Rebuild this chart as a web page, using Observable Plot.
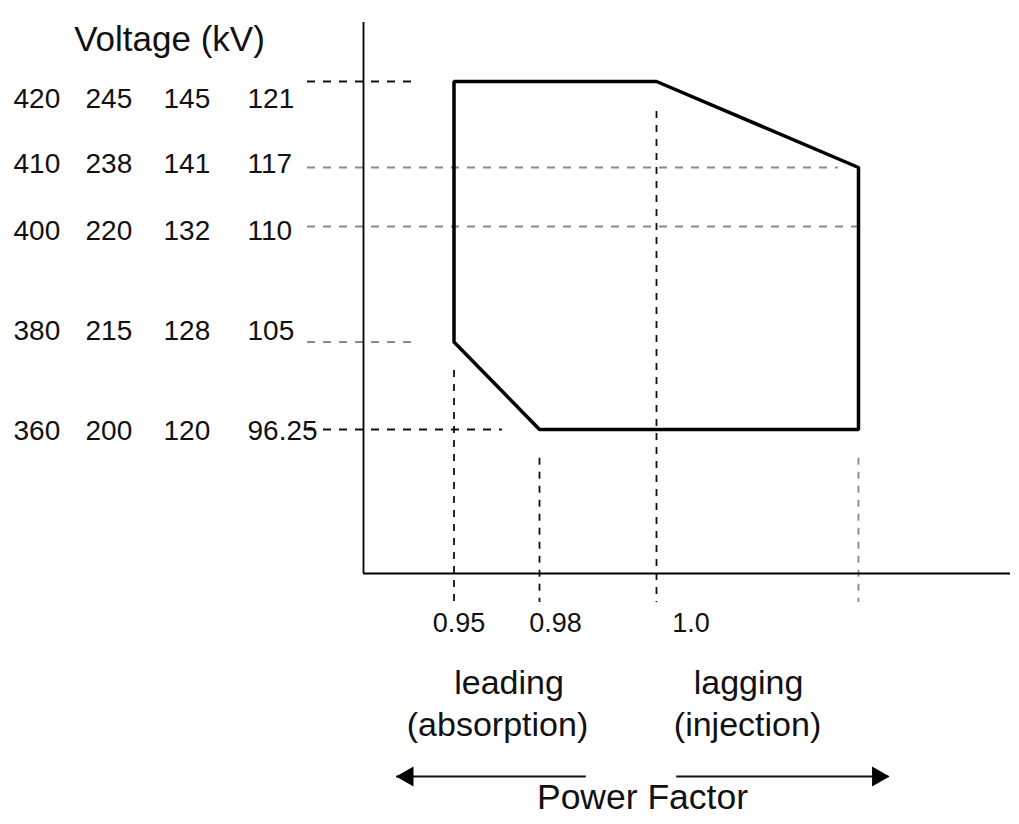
<!DOCTYPE html>
<html><head><meta charset="utf-8">
<script src="https://cdn.jsdelivr.net/npm/d3@7"></script>
<script src="https://cdn.jsdelivr.net/npm/@observablehq/plot@0.6"></script>
<style>body{margin:0;background:#fff;} svg{display:block;}</style>
</head><body><div id="chart"></div>
<script>
// Voltage levels (kV) of the four systems, rows top -> bottom
const kV420 = [420, 410, 400, 380, 360];
const kV245 = ["245", "238", "220", "215", "200"];
const kV145 = ["145", "141", "132", "128", "120"];
const kV121 = ["121", "117", "110", "105", "96.25"];

// Power factor as signed offset from unity (leading < 0, lagging > 0)
const pfTicks = [-0.05, -0.02, 0];
const pfTickLabels = ["0.95", "0.98", "1.0"];

// Operating envelope vertices (pf offset, kV on the 400 kV scale)
const envPf = [-0.05, 0, 0.05, 0.05, -0.02, -0.05];
const envKV = [420, 420, 410, 360, 360, 380];

// Horizontal dashed guides (kV level, where the guide stops)
const hGuideKV = [420, 410, 400, 380, 360];
const hGuideEnd = [-0.062, 0.045, 0.05, -0.062, -0.033];
const hGuideTone = ["dark", "light", "light", "light", "dark"];

// Vertical dashed guides (pf, where the guide starts)
const vGuidePf = [-0.05, -0.02, 0, 0.05];
const vGuideTop = [373.5, 354, 416.5, 354];
const vGuideTone = ["dark", "dark", "dark", "light"];

// Direction arrows (pf offset of tail and tip)
const arrowTail = [-0.012, 0.005];
const arrowTip = [-0.069, 0.056];

// Axis / guide extents
const pfGuideStart = -0.10, pfAxisStart = -0.08;
const kVGuideBase = 324, kVAxisBase = 330, kVAxisTop = 430;

const tone = {dark: "#111", light: "#8a8a8a"};
const FONT = "'Liberation Sans', Arial, sans-serif";

const env = envPf.map((pf, i) => ({pf, kv: envKV[i]}));
const marks = [];

// horizontal guides
hGuideKV.forEach((kv, i) => {
  marks.push(Plot.ruleY([{kv, x1: pfGuideStart, x2: hGuideEnd[i]}], {
    y: "kv", x1: "x1", x2: "x2", stroke: tone[hGuideTone[i]], strokeWidth: 1.8, strokeDasharray: "8,8"
  }));
});
// vertical guides
vGuidePf.forEach((pf, i) => {
  marks.push(Plot.ruleX([{pf, top: vGuideTop[i], base: kVGuideBase}], {
    x: "pf", y1: "top", y2: "base", stroke: tone[vGuideTone[i]], strokeWidth: 1.8, strokeDasharray: "7,7"
  }));
});
// axes
marks.push(Plot.ruleX([{x: pfAxisStart, y1: kVAxisBase, y2: kVAxisTop}], {x: "x", y1: "y1", y2: "y2", stroke: "#000", strokeWidth: 1.8}));
marks.push(Plot.ruleY([{y: kVAxisBase, x1: pfAxisStart, x2: 0.08}], {y: "y", x1: "x1", x2: "x2", stroke: "#000", strokeWidth: 1.8}));
// envelope
marks.push(Plot.line(env, {x: "pf", y: "kv", curve: "linear-closed", stroke: "#000", strokeWidth: 3.5, strokeLinejoin: "miter"}));

// voltage labels: four columns per row
const cols = [kV420.map(String), kV245, kV145, kV121];
const colDx = [-294, -222, -144, -60];
const rowDy = [18, -3, 5, -10.5, 2];
kV420.forEach((kv, r) => {
  cols.forEach((col, c) => {
    marks.push(Plot.text([{kv, t: col[r]}], {
      y: "kv", text: "t", frameAnchor: "left", dx: colDx[c], dy: rowDy[r],
      textAnchor: "start", fontSize: 28, fill: "#111"
    }));
  });
});

// power factor tick labels
const tickDx = [5, 16, 34.5];
pfTicks.forEach((pf, i) => {
  marks.push(Plot.text([{pf, t: pfTickLabels[i]}], {
    x: "pf", text: "t", frameAnchor: "bottom", dy: 29, dx: tickDx[i], fontSize: 27, fill: "#111"
  }));
});

// annotations below the axis (relative to the bottom-left of the frame)
const notes = [
  {t: "leading", dx: 201.5, dy: 91, s: 34},
  {t: "(absorption)", dx: 190, dy: 133, s: 34},
  {t: "lagging", dx: 441, dy: 91, s: 34},
  {t: "(injection)", dx: 440, dy: 133, s: 34},
  {t: "Power Factor", dx: 335, dy: 206.5, s: 35.5}
];
notes.forEach(n => marks.push(Plot.text([n.t], {
  frameAnchor: "bottom-left", textAnchor: "middle", dx: n.dx, dy: n.dy, fontSize: n.s, fill: "#111"
})));

// title
marks.push(Plot.text(["Voltage (kV)"], {frameAnchor: "top-left", textAnchor: "middle", dx: -138, dy: 4, fontSize: 35, fill: "#111"}));

// arrows
arrowTail.forEach((tail, i) => {
  marks.push(Plot.ruleY([{x1: tail, x2: arrowTip[i]}], {y: null, x1: "x1", x2: "x2", dy: 464, stroke: "#111", strokeWidth: 2}));
  const right = arrowTip[i] > tail;
  marks.push(Plot.dot([{x: arrowTip[i]}], {
    x: "x", frameAnchor: "bottom", dy: 174, dx: right ? -11 : 11,
    symbol: "triangle", r: 7.5, fill: "#000", stroke: "none", rotate: right ? 90 : -90
  }));
});

const chart = Plot.plot({
  width: 1019,
  height: 824,
  marginLeft: 307,
  marginRight: 9,
  marginTop: 22,
  marginBottom: 222,
  style: {fontFamily: FONT, background: "#fff", overflow: "visible"},
  x: {type: "linear", domain: [-0.10, -0.08, -0.05, -0.02, 0, 0.05, 0.08], range: [307, 363, 453.5, 539, 656, 858, 1010], axis: null},
  y: {type: "linear", domain: [324, 330, 360, 380, 400, 410, 420, 430], range: [602, 573, 429, 341.5, 226, 167, 81, 22], axis: null},
  marks
});
document.getElementById("chart").append(chart);
</script>
</body></html>
